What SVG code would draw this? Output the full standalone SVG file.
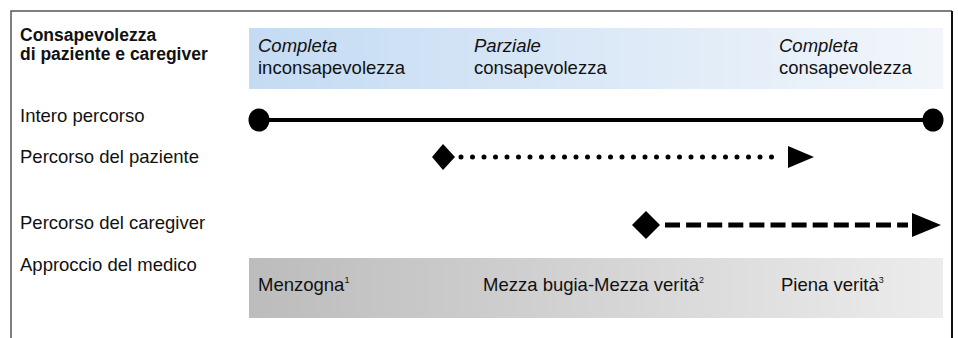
<svg xmlns="http://www.w3.org/2000/svg" width="958" height="338" viewBox="0 0 958 338">
<style>
.lbl{font-family:"Liberation Sans",Arial,sans-serif;font-size:18.5px;fill:#111}
.hd{font-family:"Liberation Sans",Arial,sans-serif;font-size:17.5px;font-weight:bold;fill:#111}
.it{font-style:italic}
.sup{font-size:9px}
</style>
<defs>
<linearGradient id="gBlue" x1="0" y1="0" x2="1" y2="0">
<stop offset="0" stop-color="#c4dbf3"/>
<stop offset="1" stop-color="#f2f6fb"/>
</linearGradient>
<linearGradient id="gGray" x1="0" y1="0" x2="1" y2="0">
<stop offset="0" stop-color="#bcbcbc"/>
<stop offset="1" stop-color="#ececec"/>
</linearGradient>
</defs>
<rect width="958" height="338" fill="#fff"/>
<g id="frame" fill="none">
<path d="M11,338 V11 H952" stroke="#555" stroke-width="1.5"/>
<path d="M952,11 V338" stroke="#111" stroke-width="2"/>
</g>
<g id="awareness">
<text class="hd" x="20" y="41">Consapevolezza</text>
<text class="hd" x="20" y="60">di paziente e caregiver</text>
<rect x="249" y="28" width="694" height="61" fill="url(#gBlue)"/>
<text class="lbl" x="258" y="52"><tspan class="it">Completa</tspan></text>
<text class="lbl" x="258" y="74">inconsapevolezza</text>
<text class="lbl" x="474" y="52"><tspan class="it">Parziale</tspan></text>
<text class="lbl" x="474" y="74">consapevolezza</text>
<text class="lbl" x="779" y="52"><tspan class="it">Completa</tspan></text>
<text class="lbl" x="779" y="74">consapevolezza</text>
</g>
<g id="row-intero">
<text class="lbl" x="20" y="122">Intero percorso</text>
</g>
<g id="row-paziente">
<text class="lbl" x="20" y="163">Percorso del paziente</text>
</g>
<g id="row-caregiver">
<text class="lbl" x="20" y="229">Percorso del caregiver</text>
</g>
<g id="connectors">
<g id="intero">
<line x1="259" y1="120" x2="933" y2="120" stroke="#000" stroke-width="4"/>
<ellipse cx="259" cy="120" rx="10.5" ry="11.5" fill="#000"/>
<ellipse cx="933" cy="120" rx="10.5" ry="11.5" fill="#000"/>
</g>
<g id="paziente">
<polygon points="432,157 443,144 455,157 443,170" fill="#000"/>
<line x1="461" y1="157" x2="783" y2="157" stroke="#000" stroke-width="5" stroke-linecap="round" stroke-dasharray="0 11.5"/>
<polygon points="788,146 814,157 788,168" fill="#000"/>
</g>
<g id="caregiver">
<polygon points="632,225 646,211 660,225 646,239" fill="#000"/>
<line x1="665" y1="225" x2="908" y2="225" stroke="#000" stroke-width="5" stroke-dasharray="15 6.1"/>
<polygon points="912,213 941,225 912,237" fill="#000"/>
</g>
</g>
<g id="approach">
<text class="lbl" x="20" y="271">Approccio del medico</text>
<rect x="249" y="258" width="694" height="60" fill="url(#gGray)"/>
<text class="lbl" x="258" y="291">Menzogna<tspan class="sup" dy="-8">1</tspan></text>
<text class="lbl" x="483" y="291">Mezza bugia-Mezza verità<tspan class="sup" dy="-8">2</tspan></text>
<text class="lbl" x="781" y="291">Piena verità<tspan class="sup" dy="-8">3</tspan></text>
</g>
</svg>
